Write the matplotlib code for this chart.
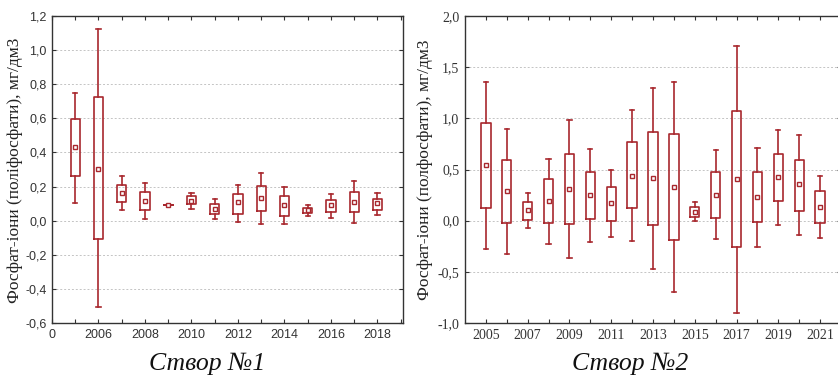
import matplotlib
matplotlib.use('Agg')
import matplotlib.pyplot as plt
from matplotlib.ticker import FuncFormatter

# ---- data: створ 1 ----
years1 = list(range(2005, 2019))
mean1 = [0.431, 0.304, 0.163, 0.118, 0.089, 0.118, 0.071, 0.107, 0.130, 0.089, 0.062, 0.089, 0.112, 0.101]
box_hi1 = [0.595, 0.724, 0.208, 0.169, 0.089, 0.142, 0.099, 0.155, 0.204, 0.146, 0.075, 0.120, 0.169, 0.128]
box_lo1 = [0.261, -0.110, 0.108, 0.060, 0.089, 0.095, 0.042, 0.042, 0.056, 0.030, 0.046, 0.050, 0.050, 0.065]
whi_hi1 = [0.749, 1.123, 0.263, 0.222, 0.089, 0.165, 0.126, 0.212, 0.277, 0.198, 0.093, 0.159, 0.234, 0.163]
whi_lo1 = [0.105, -0.509, 0.060, 0.007, 0.089, 0.069, 0.011, -0.009, -0.020, -0.022, 0.026, 0.013, -0.013, 0.032]

# ---- data: створ 2 ----
years2 = list(range(2005, 2022))
mean2 = [0.541, 0.287, 0.101, 0.189, 0.313, 0.254, 0.176, 0.440, 0.417, 0.329, 0.088, 0.254, 0.410, 0.231, 0.423, 0.355, 0.137]
box_hi2 = [0.954, 0.593, 0.186, 0.404, 0.648, 0.479, 0.329, 0.769, 0.866, 0.847, 0.137, 0.479, 1.068, 0.479, 0.655, 0.596, 0.290]
box_lo2 = [0.121, -0.026, 0.010, -0.026, -0.033, 0.016, 0.000, 0.121, -0.039, -0.192, 0.039, 0.029, -0.257, -0.013, 0.189, 0.098, -0.020]
whi_hi2 = [1.355, 0.893, 0.270, 0.606, 0.980, 0.700, 0.495, 1.085, 1.296, 1.355, 0.186, 0.694, 1.707, 0.713, 0.883, 0.840, 0.436]
whi_lo2 = [-0.274, -0.326, -0.072, -0.228, -0.365, -0.212, -0.163, -0.195, -0.469, -0.697, -0.003, -0.182, -0.899, -0.261, -0.042, -0.143, -0.169]

ylabel1 = 'Фосфат-іони (поліфосфати), мг/дм3'
ylabel2 = 'Фосфат-іони (полфосфати), мг/дм3'

RED = '#a8282e'
SERIF = 'Liberation Serif'
SANS = 'Liberation Sans'


def make_stats(mean, hi, lo, whi, wlo):
    return [dict(med=m, mean=m, q1=b, q3=t, whislo=wl, whishi=wh, fliers=[])
            for m, t, b, wh, wl in zip(mean, hi, lo, whi, wlo)]


def draw_boxes(ax, years, stats, width):
    ax.bxp(stats, positions=years, widths=width, capwidths=width * 0.45,
           showmeans=True, showfliers=False, manage_ticks=False,
           boxprops=dict(color=RED, linewidth=1.2),
           whiskerprops=dict(color=RED, linewidth=1.2),
           capprops=dict(color=RED, linewidth=1.2),
           medianprops=dict(linewidth=0),
           meanprops=dict(marker='s', markersize=3.4, markerfacecolor='white',
                          markeredgecolor=RED, markeredgewidth=1.0))


def comma(v, pos):
    return f'{v:.1f}'.replace('.', ',')


fig = plt.figure(figsize=(8.38, 3.76), dpi=100)

# ===== left panel =====
ax1 = fig.add_axes([52 / 838, 53 / 376, 351 / 838, 307 / 376])
draw_boxes(ax1, years1, make_stats(mean1, box_hi1, box_lo1, whi_hi1, whi_lo1), 0.4)
ax1.set_xlim(2004, 2019.1)
ax1.set_ylim(-0.6, 1.2)
ax1.set_yticks([-0.6 + 0.2 * i for i in range(10)])
ax1.yaxis.set_major_formatter(FuncFormatter(comma))
xt1 = list(range(2004, 2020))
ax1.set_xticks(xt1)
ax1.set_xticklabels(['0' if y == 2004 else (str(y) if y % 2 == 0 else '') for y in xt1])
for lab in ax1.get_xticklabels() + ax1.get_yticklabels():
    lab.set_fontfamily(SANS)
    lab.set_fontsize(9)
    lab.set_color('#333333')

# ===== right panel =====
ax2 = fig.add_axes([465 / 838, 53 / 376, 376 / 838, 307 / 376])
draw_boxes(ax2, years2, make_stats(mean2, box_hi2, box_lo2, whi_hi2, whi_lo2), 0.45)
ax2.set_xlim(2004, 2022)
ax2.set_ylim(-1.0, 2.0)
ax2.set_yticks([-1.0 + 0.5 * i for i in range(7)])
ax2.yaxis.set_major_formatter(FuncFormatter(comma))
xt2 = list(range(2005, 2022))
ax2.set_xticks(xt2)
ax2.set_xticklabels([str(y) if y % 2 == 1 else '' for y in xt2])
for lab in ax2.get_xticklabels() + ax2.get_yticklabels():
    lab.set_fontfamily(SERIF)
    lab.set_fontsize(10)
    lab.set_color('#111111')

for ax in (ax1, ax2):
    ax.tick_params(direction='in', top=True, right=True, length=3, width=0.8, pad=4, colors='#333333')
    ax.yaxis.grid(True, linestyle=(0, (2, 2)), color='#c4c4c4', linewidth=0.7)
    ax.set_axisbelow(True)
    for s in ax.spines.values():
        s.set_color('#333333')
        s.set_linewidth(1.0)

# y labels and captions
fig.text(15 / 838, 1 - 170 / 376, ylabel1, rotation=90, ha='center', va='center',
         family=SERIF, fontsize=12.5, color='#222222')
fig.text(425 / 838, 1 - 170 / 376, ylabel2, rotation=90, ha='center', va='center',
         family=SERIF, fontsize=12.5, color='#222222')
fig.text(207 / 838, 1 - 364 / 376, 'Створ №1', ha='center', va='center',
         family=SERIF, style='italic', fontsize=18.5, color='#111111')
fig.text(630 / 838, 1 - 364 / 376, 'Створ №2', ha='center', va='center',
         family=SERIF, style='italic', fontsize=18.5, color='#111111')

plt.savefig('out.png', dpi=100)
